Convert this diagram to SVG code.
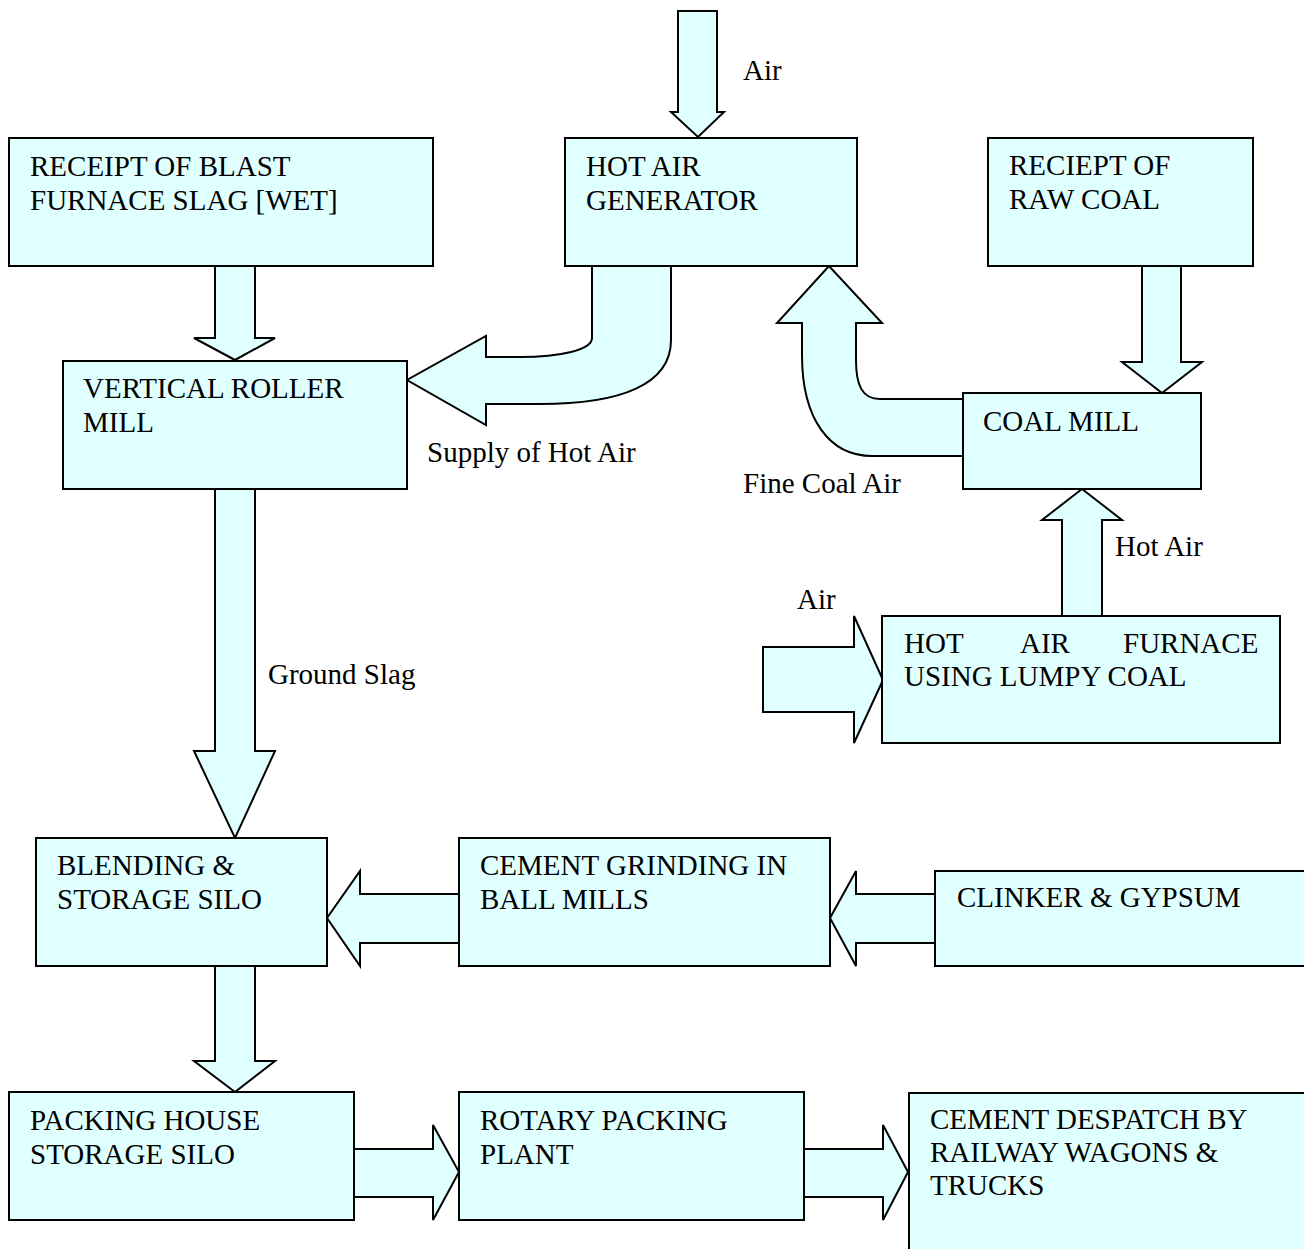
<svg xmlns="http://www.w3.org/2000/svg" width="1304" height="1249" viewBox="0 0 1304 1249">
<style>
.box{fill:#E0FFFF;stroke:#000;stroke-width:2}
.arr{fill:#E0FFFF;stroke:#000;stroke-width:2;stroke-linejoin:miter}
text{font-family:"Liberation Serif","Times New Roman",serif;font-size:29px;fill:#000}
</style>
<rect width="1304" height="1249" fill="#fff"/>
<g id="connectors">
<polygon class="arr" points="678,11 717,11 717,112 724,112 698,137 671,112 678,112"/>
<polygon class="arr" points="215,266 255,266 255,338 275,338 235,360 194,338 215,338"/>
<path class="arr" d="M671,266 L671,340 C671,385 620,404 540,404 L486,404 L486,425 L407,380 L486,336 L486,357 L520,357 C560,357 592,350 592,338 L592,266 Z"/>
<polygon class="arr" points="1142,266 1181,266 1181,362 1202,362 1162,393 1122,362 1142,362"/>
<path class="arr" d="M963,456 L872,456 C830,456 802,420 802,355 L802,323 L777,323 L829,266 L882,323 L856,323 L856,360 C856,385 862,399 880,399 L963,399 Z"/>
<polygon class="arr" points="1062,616 1062,520 1042,520 1082,489 1122,520 1102,520 1102,616"/>
<polygon class="arr" points="763,647 854,647 854,616 883,680 854,743 854,712 763,712"/>
<polygon class="arr" points="215,489 255,489 255,751 275,751 235,838 194,751 215,751"/>
<polygon class="arr" points="935,894 856,894 856,871 830,918 856,966 856,943 935,943"/>
<polygon class="arr" points="459,894 360,894 360,871 327,918 360,966 360,943 459,943"/>
<polygon class="arr" points="215,966 255,966 255,1061 275,1061 235,1092 194,1061 215,1061"/>
<polygon class="arr" points="354,1149 433,1149 433,1125 459,1172 433,1220 433,1197 354,1197"/>
<polygon class="arr" points="804,1149 883,1149 883,1125 908,1172 883,1220 883,1197 804,1197"/>
</g>
<g id="label-air-top"><text x="743" y="80">Air</text></g>
<g id="node-blast-slag">
<rect class="box" x="9" y="138" width="424" height="128"/>
<text x="30" y="176">RECEIPT OF BLAST</text>
<text x="30" y="210">FURNACE SLAG [WET]</text>
</g>
<g id="node-hot-air-generator">
<rect class="box" x="565" y="138" width="292" height="128"/>
<text x="586" y="176">HOT AIR</text>
<text x="586" y="210">GENERATOR</text>
</g>
<g id="node-raw-coal">
<rect class="box" x="988" y="138" width="265" height="128"/>
<text x="1009" y="175">RECIEPT OF</text>
<text x="1009" y="209">RAW COAL</text>
</g>
<g id="node-vrm">
<rect class="box" x="63" y="361" width="344" height="128"/>
<text x="83" y="398">VERTICAL ROLLER</text>
<text x="83" y="432">MILL</text>
</g>
<g id="label-supply"><text x="427" y="462">Supply of Hot Air</text></g>
<g id="node-coal-mill">
<rect class="box" x="963" y="393" width="238" height="96"/>
<text x="983" y="431">COAL MILL</text>
</g>
<g id="label-fine-coal"><text x="743" y="493">Fine Coal Air</text></g>
<g id="label-hot-air"><text x="1115" y="556">Hot Air</text></g>
<g id="label-air-furnace"><text x="797" y="609">Air</text></g>
<g id="node-furnace">
<rect class="box" x="882" y="616" width="398" height="127"/>
<text y="653"><tspan x="904">HOT</tspan><tspan x="1020">AIR</tspan><tspan x="1123">FURNACE</tspan></text>
<text x="904" y="686">USING LUMPY COAL</text>
</g>
<g id="label-ground-slag"><text x="268" y="684">Ground Slag</text></g>
<g id="node-blending">
<rect class="box" x="36" y="838" width="291" height="128"/>
<text x="57" y="875">BLENDING &amp;</text>
<text x="57" y="909">STORAGE SILO</text>
</g>
<g id="node-cement-grinding">
<rect class="box" x="459" y="838" width="371" height="128"/>
<text x="480" y="875">CEMENT GRINDING IN</text>
<text x="480" y="909">BALL MILLS</text>
</g>
<g id="node-clinker">
<rect class="box" x="935" y="871" width="400" height="95"/>
<text x="957" y="907">CLINKER &amp; GYPSUM</text>
</g>
<g id="node-packing-house">
<rect class="box" x="9" y="1092" width="345" height="128"/>
<text x="30" y="1130">PACKING HOUSE</text>
<text x="30" y="1164">STORAGE SILO</text>
</g>
<g id="node-rotary">
<rect class="box" x="459" y="1092" width="345" height="128"/>
<text x="480" y="1130">ROTARY PACKING</text>
<text x="480" y="1164">PLANT</text>
</g>
<g id="node-despatch">
<rect class="box" x="909" y="1093" width="420" height="200"/>
<text x="930" y="1129">CEMENT DESPATCH BY</text>
<text x="930" y="1162">RAILWAY WAGONS &amp;</text>
<text x="930" y="1195">TRUCKS</text>
</g>
</svg>
